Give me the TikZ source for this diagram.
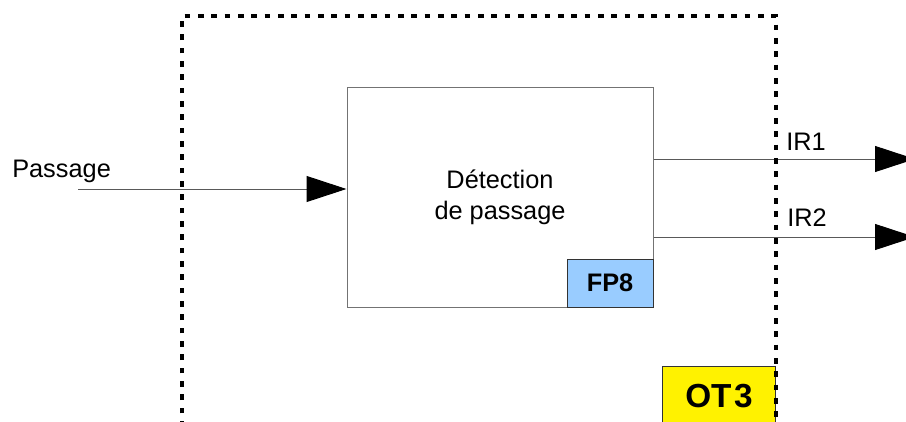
\documentclass[tikz,border=0pt]{standalone}
\usepackage{fontspec}
\setmainfont{Liberation Sans}
\usetikzlibrary{arrows.meta}

\definecolor{fpblue}{HTML}{99CCFF}

\begin{document}
\begin{tikzpicture}[
    x=0.75pt, y=-0.75pt,
    font=\fontsize{19}{23}\selectfont,
    >={Triangle[length=30pt,width=19.5pt,color=black]},
    flow/.style={draw=black!65, line width=0.75pt},
    block/.style={draw=black!55, line width=0.75pt, align=center,
                  minimum width=229.5pt, minimum height=165pt},
    tag/.style={draw=black!80, line width=0.75pt, inner sep=0pt,
                font=\fontsize{19}{22}\selectfont\bfseries},
    frame/.style={line width=2.5pt, dash pattern=on 4.3pt off 5.7pt},
    lab/.style={anchor=base, inner sep=0pt},
  ]
  \useasboundingbox (0,0) rectangle (906,421);

  %% ---- the function block and its tag ----------------------------------
  \node[block] (detect) at (500,197) {Détection\\de passage};
  \node[tag, fill=fpblue, anchor=south east,
        minimum width=64.5pt, minimum height=36pt] (fp) at (detect.south east) {FP8};

  %% ---- input and outputs -------------------------------------------------
  \coordinate (pin) at (78,189);
  \coordinate (ir1) at (915,159);
  \coordinate (ir2) at (915,237);
  \draw[flow,->] (pin) -- (pin -| detect.west);
  \draw[flow,->] (ir1 -| detect.east) -- (ir1);
  \draw[flow,->] (ir2 -| detect.east) -- (ir2);
  \node[lab, anchor=base west] (lpin) at (12,177) {Passage};
  \node[lab] (lir1) at (806,150) {IR1};
  \node[lab] (lir2) at (807,226) {IR2};

  %% ---- the enclosing unit, open at the bottom ------------------------------
  \node[tag, fill=yellow, anchor=north east, font=\fontsize{25}{28}\selectfont\bfseries,
        minimum width=84.75pt, minimum height=45pt] (ot) at (776,366) {OT\kern2pt 3};
  \draw[frame] (182,440) -- (182,16) -- (776,16) -- (776,440);
\end{tikzpicture}
\end{document}
